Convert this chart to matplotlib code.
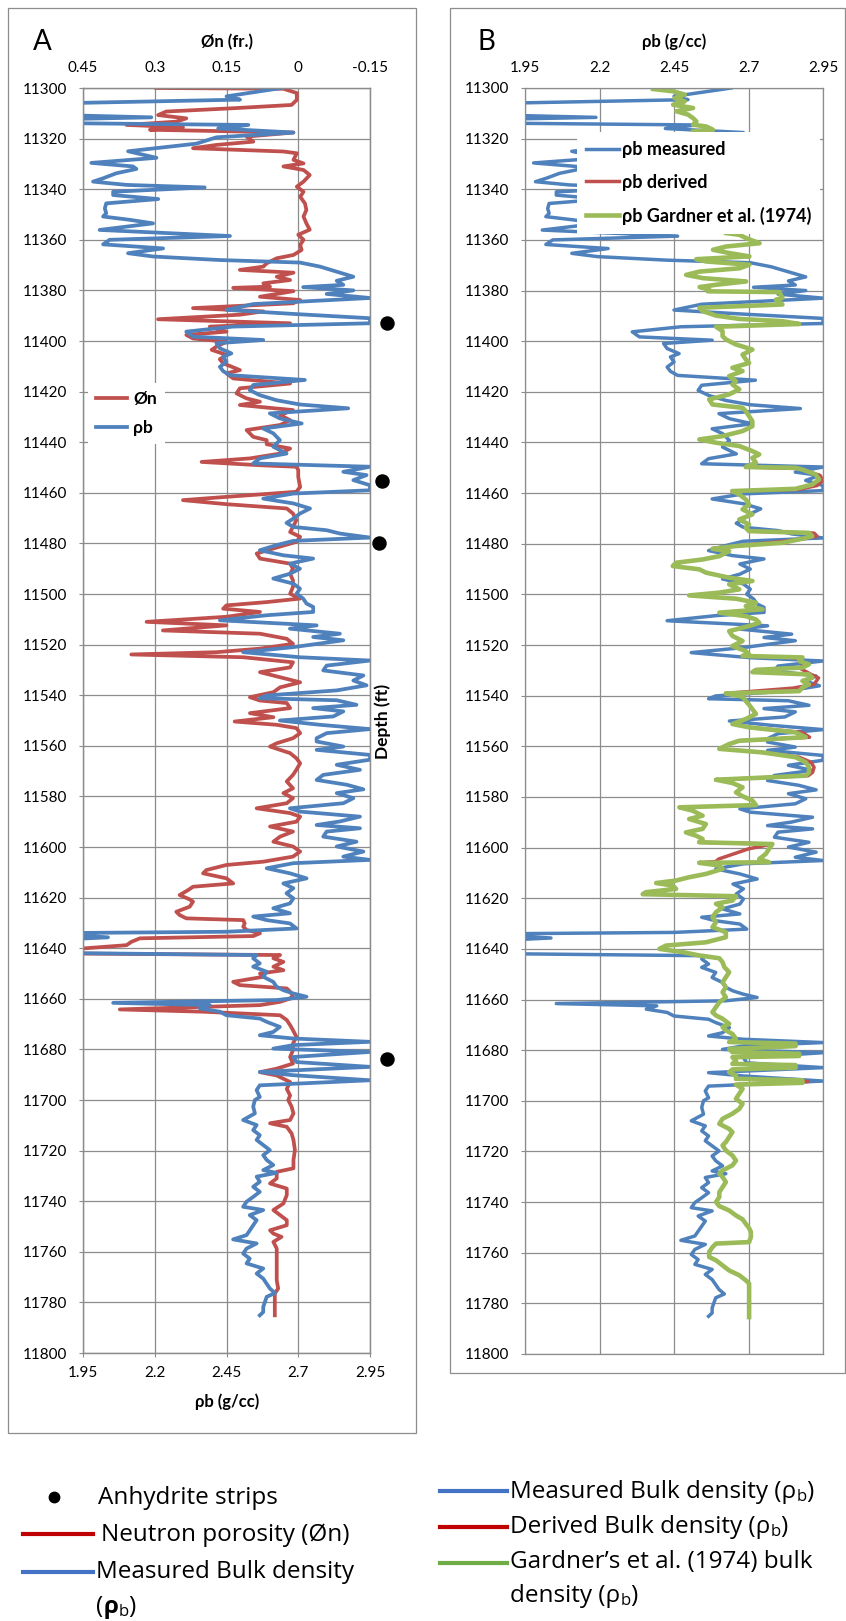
import numpy as np
import matplotlib
matplotlib.use("Agg")
import matplotlib.pyplot as plt
from matplotlib.lines import Line2D
from matplotlib.patches import Rectangle

plt.rcParams["font.family"] = ["Lato", "DejaVu Sans"]

# ---------------------------------------------------------------- data
depth_ticks = [11300, 11320, 11340, 11360, 11380, 11400, 11420, 11440, 11460,
               11480, 11500, 11520, 11540, 11560, 11580, 11600, 11620, 11640,
               11660, 11680, 11700, 11720, 11740, 11760, 11780, 11800]
rho_ticks = [1.95, 2.2, 2.45, 2.7, 2.95]
rho_ticklabels = ["1.95", "2.2", "2.45", "2.7", "2.95"]
phin_ticks = [0.45, 0.3, 0.15, 0.0, -0.15]
phin_ticklabels = ["0.45", "0.3", "0.15", "0", "-0.15"]

# measured bulk density (g/cc) vs depth (ft)
rhob_depth = [
    11300.0, 11303.3, 11304.6, 11306.2, 11310.5, 11311.6, 11312.5, 11313.8, 11314.6, 11316.0,
    11317.6, 11319.5, 11322.0, 11325.0, 11327.6, 11329.6, 11331.0, 11332.0, 11333.7, 11335.7,
    11337.0, 11338.3, 11339.3, 11341.0, 11342.3, 11343.9, 11345.6, 11347.6, 11349.5, 11350.8,
    11352.1, 11353.5, 11356.1, 11358.5, 11360.0, 11361.8, 11363.4, 11365.3, 11366.6, 11368.0,
    11369.0, 11370.6, 11372.6, 11374.6, 11376.2, 11377.8, 11378.7, 11380.0, 11381.4, 11383.0,
    11385.4, 11387.7, 11389.3, 11391.0, 11393.0, 11394.3, 11396.3, 11398.3, 11399.6, 11400.9,
    11402.9, 11404.9, 11406.2, 11408.2, 11410.2, 11411.9, 11413.5, 11415.4, 11417.4, 11419.4,
    11421.4, 11423.4, 11425.1, 11426.6, 11428.6, 11430.6, 11432.6, 11434.6, 11436.5, 11439.2,
    11441.8, 11444.5, 11446.4, 11448.4, 11449.7, 11451.7, 11453.0, 11455.0, 11457.0, 11459.0,
    11460.3, 11462.3, 11464.2, 11466.2, 11468.2, 11470.2, 11471.9, 11473.5, 11474.8, 11476.1,
    11477.7, 11479.0, 11480.7, 11482.7, 11484.7, 11486.0, 11488.0, 11490.0, 11492.0, 11493.9,
    11495.9, 11497.9, 11499.9, 11501.8, 11503.8, 11505.1, 11507.1, 11508.4, 11510.4, 11512.4,
    11513.7, 11515.7, 11517.0, 11518.3, 11521.0, 11523.0, 11525.0, 11526.3, 11528.3, 11530.2,
    11532.2, 11534.2, 11536.1, 11538.1, 11540.1, 11541.2, 11542.0, 11543.8, 11545.1, 11546.4,
    11548.4, 11550.0, 11551.7, 11553.4, 11555.0, 11557.0, 11558.3, 11560.3, 11561.6, 11563.6,
    11565.5, 11567.5, 11569.5, 11571.5, 11573.5, 11575.4, 11577.2, 11578.7, 11580.7, 11582.7,
    11584.7, 11586.0, 11588.0, 11589.9, 11591.3, 11592.6, 11593.9, 11595.9, 11597.9, 11599.8,
    11601.8, 11603.8, 11605.1, 11606.4, 11608.4, 11610.4, 11612.4, 11614.4, 11616.3, 11618.3,
    11620.3, 11622.3, 11624.2, 11626.2, 11627.5, 11628.9, 11630.2, 11632.2, 11633.5, 11634.1,
    11635.7, 11637.0, 11641.8, 11642.7, 11644.0, 11646.0, 11647.3, 11649.3, 11651.3, 11653.3,
    11655.2, 11656.6, 11657.9, 11659.2, 11660.5, 11661.6, 11662.5, 11663.8, 11665.1, 11666.5,
    11667.8, 11669.1, 11671.1, 11673.1, 11674.4, 11675.7, 11677.0, 11678.3, 11679.7, 11681.0,
    11683.0, 11685.0, 11686.9, 11688.9, 11690.2, 11692.2, 11694.2, 11696.1, 11698.8, 11700.0,
    11702.6, 11705.3, 11707.9, 11709.9, 11711.9, 11713.9, 11715.8, 11717.8, 11719.8, 11721.8,
    11723.7, 11725.7, 11727.7, 11728.8, 11730.3, 11732.3, 11734.3, 11736.3, 11738.3, 11740.2,
    11742.2, 11743.5, 11745.5, 11747.5, 11749.5, 11751.5, 11753.4, 11755.1, 11756.7, 11758.7,
    11760.7, 11762.7, 11764.6, 11766.6, 11768.6, 11770.6, 11772.6, 11774.5, 11776.3, 11777.8,
    11779.8, 11781.8, 11783.8, 11785.1,
]
rhob_meas = [
    2.642, 2.450, 2.497, 1.800, 1.800, 2.188, 1.800, 1.800, 2.526, 2.421,
    2.683, 2.415, 2.345, 2.107, 2.206, 1.979, 2.124, 2.136, 2.066, 2.020,
    1.985, 2.101, 2.374, 2.055, 2.055, 2.212, 2.031, 2.026, 2.031, 2.020,
    2.113, 2.194, 2.008, 2.462, 2.043, 2.020, 2.229, 2.107, 2.194, 2.427,
    2.706, 2.776, 2.834, 2.892, 2.834, 2.857, 2.717, 2.892, 2.799, 2.950,
    2.543, 2.450, 2.683, 2.950, 2.950, 2.473, 2.310, 2.334, 2.578, 2.415,
    2.427, 2.467, 2.438, 2.450, 2.427, 2.438, 2.462, 2.723, 2.543, 2.531,
    2.566, 2.624, 2.706, 2.874, 2.601, 2.636, 2.712, 2.578, 2.613, 2.636,
    2.613, 2.659, 2.566, 2.543, 2.950, 2.857, 2.938, 2.892, 2.950, 2.950,
    2.683, 2.578, 2.683, 2.741, 2.706, 2.683, 2.659, 2.683, 2.799, 2.845,
    2.950, 2.683, 2.624, 2.566, 2.648, 2.752, 2.671, 2.706, 2.671, 2.613,
    2.683, 2.706, 2.694, 2.717, 2.729, 2.752, 2.752, 2.590, 2.427, 2.764,
    2.671, 2.845, 2.752, 2.857, 2.683, 2.508, 2.706, 2.950, 2.799, 2.787,
    2.927, 2.892, 2.938, 2.834, 2.590, 2.566, 2.834, 2.903, 2.752, 2.857,
    2.822, 2.636, 2.776, 2.950, 2.799, 2.764, 2.764, 2.857, 2.764, 2.950,
    2.950, 2.834, 2.915, 2.787, 2.764, 2.869, 2.927, 2.834, 2.892, 2.857,
    2.671, 2.706, 2.915, 2.845, 2.764, 2.915, 2.799, 2.787, 2.903, 2.834,
    2.927, 2.857, 2.950, 2.683, 2.590, 2.671, 2.729, 2.648, 2.683, 2.659,
    2.683, 2.671, 2.613, 2.671, 2.543, 2.590, 2.671, 2.694, 2.450, 1.800,
    2.037, 1.800, 1.800, 2.555, 2.543, 2.566, 2.543, 2.590, 2.578, 2.613,
    2.624, 2.648, 2.683, 2.729, 2.624, 2.055, 2.392, 2.357, 2.427, 2.450,
    2.566, 2.590, 2.636, 2.613, 2.566, 2.683, 2.950, 2.683, 2.613, 2.950,
    2.683, 2.694, 2.950, 2.566, 2.683, 2.950, 2.566, 2.555, 2.566, 2.549,
    2.543, 2.549, 2.508, 2.555, 2.543, 2.566, 2.555, 2.578, 2.601, 2.578,
    2.590, 2.613, 2.578, 2.624, 2.555, 2.566, 2.543, 2.566, 2.543, 2.520,
    2.508, 2.578, 2.531, 2.555, 2.543, 2.531, 2.520, 2.473, 2.555, 2.520,
    2.508, 2.531, 2.520, 2.578, 2.555, 2.578, 2.590, 2.601, 2.619, 2.590,
    2.584, 2.578, 2.578, 2.566,
]

# neutron porosity (fraction) vs depth (ft)
phin_depth = [
    11300.0, 11300.3, 11302.0, 11304.7, 11306.7, 11308.0, 11309.3, 11310.7, 11312.0, 11313.3,
    11314.6, 11315.5, 11316.5, 11317.6, 11319.2, 11321.2, 11322.5, 11323.8, 11325.1, 11325.8,
    11328.4, 11329.8, 11331.0, 11332.4, 11334.4, 11337.0, 11339.0, 11341.0, 11343.0, 11345.6,
    11348.2, 11350.8, 11353.5, 11356.0, 11358.0, 11360.0, 11362.0, 11364.0, 11366.0, 11367.3,
    11369.3, 11370.6, 11371.9, 11373.0, 11374.6, 11375.9, 11377.2, 11378.5, 11379.0, 11380.3,
    11382.5, 11383.8, 11385.1, 11387.0, 11388.3, 11389.6, 11391.4, 11393.0, 11394.3, 11396.3,
    11397.6, 11399.0, 11400.3, 11402.2, 11403.5, 11405.5, 11407.2, 11408.8, 11411.5, 11412.8,
    11414.8, 11416.8, 11418.7, 11420.7, 11422.7, 11424.0, 11425.3, 11427.3, 11429.3, 11431.3,
    11433.2, 11435.2, 11437.9, 11439.2, 11440.8, 11442.5, 11444.5, 11446.4, 11447.8, 11449.1,
    11449.7, 11451.0, 11453.7, 11457.7, 11459.6, 11461.6, 11462.9, 11464.5, 11466.2, 11468.2,
    11470.8, 11473.5, 11475.5, 11477.4, 11479.4, 11482.0, 11484.0, 11486.0, 11488.0, 11490.0,
    11492.0, 11494.6, 11497.2, 11499.9, 11501.8, 11503.2, 11504.5, 11505.8, 11507.1, 11509.0,
    11511.0, 11512.4, 11514.4, 11515.7, 11517.7, 11519.7, 11521.6, 11523.0, 11523.9, 11525.0,
    11527.0, 11529.0, 11530.9, 11532.9, 11534.9, 11536.9, 11538.8, 11540.8, 11542.1, 11543.1,
    11545.1, 11547.1, 11548.7, 11550.4, 11551.7, 11553.0, 11555.0, 11557.0, 11559.0, 11560.3,
    11562.9, 11564.9, 11566.9, 11569.5, 11571.5, 11574.1, 11576.8, 11578.7, 11580.7, 11582.7,
    11584.7, 11586.6, 11588.0, 11590.0, 11591.9, 11593.9, 11595.9, 11597.9, 11599.8, 11601.8,
    11603.8, 11605.8, 11607.1, 11609.1, 11610.4, 11612.4, 11614.4, 11615.7, 11617.0, 11619.0,
    11620.7, 11621.6, 11623.6, 11625.6, 11626.9, 11628.2, 11628.9, 11630.2, 11631.5, 11632.8,
    11634.1, 11635.2, 11636.1, 11637.5, 11638.8, 11640.1, 11641.4, 11642.0, 11642.7, 11644.0,
    11645.4, 11647.3, 11648.7, 11650.0, 11651.3, 11653.3, 11654.6, 11655.9, 11657.2, 11658.6,
    11659.9, 11661.2, 11662.5, 11664.2, 11665.1, 11666.5, 11668.4, 11670.4, 11672.4, 11675.0,
    11677.7, 11680.3, 11683.0, 11685.6, 11687.6, 11689.0, 11690.3, 11692.9, 11695.6, 11698.2,
    11700.0, 11702.6, 11705.3, 11707.9, 11709.2, 11710.6, 11713.2, 11715.8, 11719.8, 11723.7,
    11727.0, 11728.4, 11731.0, 11733.0, 11735.0, 11737.6, 11740.9, 11743.5, 11745.5, 11747.5,
    11749.5, 11751.5, 11752.8, 11754.1, 11756.1, 11758.7, 11762.7, 11767.3, 11771.2, 11774.5,
    11776.5, 11779.2, 11785.1,
]
phin = [
    0.297, 0.031, 0.003, 0.003, 0.014, 0.136, 0.276, 0.293, 0.234, 0.255,
    0.359, 0.241, 0.310, 0.010, 0.108, 0.094, 0.171, 0.220, 0.031, 0.003,
    0.010, -0.011, 0.031, -0.011, -0.024, -0.011, 0.003, -0.011, -0.004, -0.014,
    -0.017, -0.011, -0.017, -0.024, 0.000, -0.011, -0.004, -0.007, 0.010, 0.045,
    0.066, 0.073, 0.122, 0.010, 0.045, 0.017, 0.073, 0.059, 0.136, 0.010,
    0.080, -0.004, 0.011, 0.220, 0.073, 0.122, 0.293, 0.017, 0.185, 0.150,
    0.234, 0.220, 0.150, 0.171, 0.181, 0.150, 0.164, 0.157, 0.122, 0.150,
    0.136, 0.017, 0.122, 0.129, 0.108, 0.080, 0.122, 0.011, 0.038, 0.017,
    0.038, 0.108, 0.094, 0.066, 0.066, 0.017, 0.038, 0.101, 0.202, 0.080,
    0.004, 0.000, 0.000, -0.004, 0.004, 0.150, 0.241, 0.150, 0.024, 0.011,
    0.004, 0.011, 0.017, -0.004, 0.004, 0.052, 0.087, 0.080, 0.017, 0.011,
    0.017, 0.011, 0.011, 0.017, -0.004, 0.066, 0.150, 0.157, 0.080, 0.150,
    0.317, 0.150, 0.283, 0.080, 0.024, 0.011, 0.080, 0.171, 0.349, 0.115,
    0.011, 0.017, 0.080, 0.038, -0.004, 0.038, 0.052, 0.101, 0.080, 0.024,
    0.017, 0.101, 0.052, 0.133, 0.045, 0.004, -0.004, 0.011, 0.045, 0.059,
    0.017, 0.004, -0.004, 0.004, 0.011, 0.024, 0.011, 0.031, 0.011, 0.024,
    0.087, 0.017, -0.004, 0.004, 0.059, 0.011, 0.038, 0.052, 0.011, -0.004,
    0.011, 0.073, 0.150, 0.192, 0.199, 0.150, 0.136, 0.220, 0.230, 0.248,
    0.227, 0.220, 0.227, 0.255, 0.248, 0.234, 0.115, 0.112, 0.115, 0.108,
    0.080, 0.094, 0.331, 0.349, 0.359, 0.450, 0.550, 0.550, 0.038, 0.052,
    0.031, 0.052, 0.031, 0.080, 0.073, 0.136, 0.122, 0.024, 0.017, 0.011,
    0.017, 0.038, 0.080, 0.373, 0.199, 0.038, 0.024, 0.017, 0.011, 0.004,
    0.011, 0.011, 0.017, 0.011, 0.045, 0.080, 0.045, 0.017, 0.024, 0.017,
    0.021, 0.014, 0.010, 0.017, 0.059, 0.024, 0.014, 0.010, 0.007, 0.010,
    0.010, 0.045, 0.045, 0.059, 0.024, 0.024, 0.031, 0.052, 0.038, 0.024,
    0.024, 0.059, 0.052, 0.035, 0.052, 0.045, 0.045, 0.045, 0.045, 0.042,
    0.049, 0.049, 0.049,
]

# Gardner et al. (1974) bulk density (g/cc); NaN where no value is shown
gard_depth = [
    11300.4, 11301.3, 11302.6, 11304.0, 11305.3, 11306.6, 11307.9, 11309.2, 11310.5, 11311.9,
    11313.2, 11314.5, 11315.2, 11316.5, 11317.2, 11337.0, 11357.3, 11358.0, 11359.3, 11361.3,
    11362.6, 11363.9, 11365.2, 11366.5, 11367.6, 11368.5, 11369.8, 11371.2, 11372.5, 11373.8,
    11375.1, 11376.4, 11377.7, 11378.6, 11379.7, 11380.3, 11380.6, 11382.9, 11383.6, 11385.5,
    11386.8, 11388.1, 11389.9, 11391.2, 11392.1, 11393.2, 11394.3, 11396.0, 11398.0, 11399.3,
    11401.3, 11403.3, 11405.3, 11407.2, 11408.6, 11410.5, 11411.8, 11413.8, 11415.8, 11417.1,
    11419.0, 11421.0, 11423.0, 11425.0, 11426.3, 11427.6, 11429.6, 11431.6, 11433.6, 11435.5,
    11437.5, 11438.8, 11440.1, 11441.4, 11443.4, 11444.7, 11446.1, 11448.0, 11449.7, 11450.0,
    11450.7, 11452.6, 11454.6, 11456.6, 11458.3, 11459.2, 11460.5, 11462.5, 11464.5, 11466.4,
    11468.4, 11470.4, 11472.4, 11473.7, 11475.0, 11475.7, 11477.0, 11478.0, 11479.6, 11480.9,
    11482.0, 11482.9, 11484.9, 11486.2, 11487.5, 11488.8, 11490.1, 11491.4, 11493.4, 11494.7,
    11496.0, 11498.0, 11499.3, 11500.4, 11501.7, 11503.3, 11504.6, 11505.9, 11507.2, 11508.6,
    11509.9, 11511.2, 11512.5, 11514.5, 11516.4, 11518.4, 11520.4, 11522.4, 11523.7, 11524.3,
    11524.9, 11526.3, 11527.6, 11528.9, 11529.8, 11530.7, 11531.6, 11532.9, 11534.2, 11535.5,
    11536.8, 11538.2, 11539.1, 11540.4, 11542.1, 11543.6, 11545.3, 11547.2, 11549.2, 11551.2,
    11552.5, 11554.5, 11556.4, 11557.8, 11559.1, 11561.0, 11562.4, 11564.3, 11566.3, 11568.3,
    11570.3, 11571.6, 11573.2, 11574.5, 11576.2, 11578.2, 11579.7, 11581.4, 11583.2, 11584.1,
    11585.4, 11587.4, 11588.7, 11590.7, 11592.6, 11594.0, 11595.3, 11596.6, 11597.9, 11598.6,
    11600.5, 11602.5, 11604.5, 11605.8, 11606.0, 11607.1, 11608.4, 11610.4, 11611.7, 11613.0,
    11614.0, 11615.0, 11616.3, 11617.6, 11618.4, 11619.2, 11620.9, 11622.2, 11623.6, 11625.5,
    11627.5, 11629.5, 11631.4, 11633.4, 11635.4, 11637.4, 11638.7, 11640.0, 11641.3, 11642.6,
    11643.7, 11645.3, 11647.2, 11649.2, 11651.2, 11653.2, 11655.1, 11657.1, 11659.1, 11661.1,
    11663.0, 11665.0, 11666.3, 11667.6, 11669.6, 11670.9, 11672.2, 11673.6, 11675.5, 11676.8,
    11677.4, 11678.4, 11679.5, 11680.8, 11681.4, 11682.3, 11682.8, 11684.1, 11685.4, 11685.9,
    11686.9, 11687.6, 11688.7, 11690.0, 11691.3, 11691.9, 11692.9, 11693.6, 11695.3, 11697.2,
    11699.2, 11701.2, 11703.2, 11705.1, 11707.1, 11709.1, 11711.1, 11712.4, 11714.3, 11716.3,
    11717.6, 11719.6, 11721.6, 11723.6, 11725.5, 11727.5, 11728.8, 11730.1, 11732.1, 11734.1,
    11736.1, 11738.0, 11740.0, 11741.6, 11743.3, 11745.3, 11746.8, 11748.6, 11750.3, 11751.8,
    11753.8, 11755.8, 11756.4, 11757.8, 11759.7, 11761.7, 11763.0, 11765.0, 11767.0, 11768.9,
    11770.9, 11772.2, 11774.2, 11776.8, 11780.8, 11785.4,
]
gard_rhob = [
    2.380, 2.447, 2.486, 2.452, 2.486, 2.447, 2.514, 2.458, 2.497, 2.514,
    2.525, 2.514, 2.558, 2.581, 2.514, np.nan, 2.625, 2.670, 2.692, 2.737,
    2.625, 2.581, 2.636, 2.703, 2.525, 2.558, 2.703, 2.670, 2.536, 2.491,
    2.547, 2.692, 2.592, 2.536, 2.569, 2.563, 2.803, 2.814, 2.792, 2.814,
    2.535, 2.546, 2.591, 2.669, 2.814, 2.870, 2.591, 2.613, 2.613, 2.624,
    2.658, 2.713, 2.680, 2.691, 2.702, 2.646, 2.680, 2.635, 2.658, 2.646,
    2.669, 2.635, 2.568, 2.579, 2.680, 2.691, 2.702, 2.713, 2.713, 2.680,
    2.613, 2.535, 2.591, 2.669, 2.713, 2.736, 2.713, 2.725, 2.691, 2.858,
    2.881, 2.925, 2.937, 2.914, 2.858, 2.646, 2.669, 2.691, 2.702, 2.680,
    2.713, 2.669, 2.702, 2.691, 2.702, 2.903, 2.914, 2.881, 2.814, 2.658,
    2.579, 2.635, 2.602, 2.546, 2.457, 2.446, 2.535, 2.557, 2.635, 2.713,
    2.635, 2.669, 2.602, 2.501, 2.658, 2.725, 2.691, 2.747, 2.602, 2.691,
    2.725, 2.736, 2.702, 2.635, 2.646, 2.680, 2.646, 2.691, 2.702, 2.680,
    2.881, 2.870, 2.903, 2.881, 2.725, 2.713, 2.903, 2.914, 2.881, 2.903,
    2.881, 2.870, 2.624, 2.680, 2.691, 2.702, 2.713, 2.725, 2.691, 2.646,
    2.702, 2.858, 2.892, 2.669, 2.635, 2.602, 2.747, 2.858, 2.892, 2.903,
    2.903, 2.892, 2.591, 2.646, 2.680, 2.658, 2.680, 2.713, 2.725, 2.468,
    2.512, 2.546, 2.501, 2.557, 2.546, 2.490, 2.524, 2.546, 2.535, 2.780,
    2.769, 2.758, 2.736, 2.769, 2.535, 2.602, 2.613, 2.557, 2.501, 2.457,
    2.390, 2.446, 2.457, 2.356, 2.345, 2.658, 2.646, 2.591, 2.613, 2.591,
    2.579, 2.591, 2.579, 2.624, 2.624, 2.557, 2.423, 2.401, 2.479, 2.535,
    2.602, 2.613, 2.619, 2.635, 2.624, 2.613, 2.624, 2.613, 2.624, 2.602,
    2.591, 2.579, 2.591, 2.613, 2.635, 2.613, 2.624, 2.646, 2.658, 2.635,
    2.858, 2.858, 2.635, 2.646, 2.870, 2.870, 2.646, 2.658, 2.646, 2.858,
    2.858, 2.646, 2.635, 2.658, 2.658, 2.881, 2.881, 2.658, 2.680, 2.669,
    2.658, 2.680, 2.669, 2.646, 2.613, 2.602, 2.635, 2.646, 2.635, 2.624,
    2.613, 2.624, 2.646, 2.658, 2.646, 2.613, 2.602, 2.613, 2.624, 2.613,
    2.602, 2.602, 2.591, 2.602, 2.635, 2.658, 2.680, 2.691, 2.702, 2.708,
    2.708, 2.702, 2.591, 2.579, 2.568, 2.568, 2.591, 2.613, 2.635, 2.669,
    2.691, 2.702, 2.702, 2.702, 2.702, 2.702,
]

# derived bulk density (g/cc), listed in the intervals where it departs from Gardner
deriv_depth = [
    11449.7, 11450.3, 11451.5, 11453.0, 11455.0, 11457.0, 11458.5, 11459.2, 11467.0,
    11475.0, 11475.8, 11477.0, 11478.5, 11480.9, 11500.0,
    11524.3, 11525.0, 11527.6, 11529.0, 11531.6, 11533.0, 11535.5, 11537.0, 11539.1, 11545.0,
    11552.5, 11554.5, 11556.4, 11557.8, 11560.0,
    11562.4, 11564.3, 11566.3, 11568.3, 11570.3, 11571.6, 11573.2, 11585.0,
    11597.9, 11598.6, 11600.5, 11602.5, 11604.5, 11605.5, 11606.0, 11650.0,
    11691.3, 11692.4, 11693.6,
]
deriv_rhob = [
    2.691, 2.870, 2.900, 2.940, 2.950, 2.930, 2.870, 2.646, np.nan,
    2.702, 2.920, 2.930, 2.860, 2.658, np.nan,
    2.680, 2.860, 2.890, 2.870, 2.910, 2.935, 2.920, 2.850, 2.624, np.nan,
    2.702, 2.880, 2.905, 2.669, np.nan,
    2.747, 2.870, 2.910, 2.920, 2.915, 2.900, 2.591, np.nan,
    2.535, 2.780, 2.700, 2.650, 2.600, 2.590, 2.535, np.nan,
    2.658, 2.900, 2.658,
]

# anhydrite strips: depth (ft) and marker position on the density scale
anhydrite_depth = [11392.8, 11455.2, 11479.7, 11683.9]
anhydrite_rhob = [3.008, 2.991, 2.982, 3.008]

# ---------------------------------------------------------------- styling
W, H = 846, 1621
GRID = "#8c8c8c"
BLUE, RED, GREEN = "#4f81bd", "#c0504d", "#9bbb59"
KEY_BLUE, KEY_RED, KEY_GREEN = "#4472c4", "#c00000", "#70ad47"
KEY_FONT = ["Open Sans", "DejaVu Sans"]

fig = plt.figure(figsize=(W / 100, H / 100), dpi=100)


def box(left, top, right, bottom):
    return [left / W, 1 - bottom / H, (right - left) / W, (bottom - top) / H]


# full-page layer in pixel units for frames, titles and the key below the tracks
page = fig.add_axes([0, 0, 1, 1], zorder=0)
page.set_xlim(0, W)
page.set_ylim(H, 0)
page.set_axis_off()
page.add_patch(Rectangle((8, 8), 408, 1425, fill=False, ec=GRID, lw=0.9))
page.add_patch(Rectangle((450, 8), 395, 1365, fill=False, ec=GRID, lw=0.9))


def depth_axis(ax):
    ax.set_ylim(11800, 11300)
    ax.set_yticks(depth_ticks)
    ax.set_yticklabels([str(d) for d in depth_ticks])
    ax.tick_params(axis="y", direction="out", length=3, width=0.8, color=GRID,
                   pad=8.5, labelsize=11)
    ax.grid(True, color=GRID, lw=0.9)
    for s in ax.spines.values():
        s.set_color(GRID)
        s.set_linewidth(0.9)


# ---------------------------------------------------------------- track A
axA = fig.add_axes(box(83, 88, 370, 1353), zorder=2)
depth_axis(axA)
axA.set_xlim(0.45, -0.15)
axA.set_xticks(phin_ticks)
axA.set_xticklabels(phin_ticklabels)
axA.plot(phin, phin_depth, color=RED, lw=2.7, solid_joinstyle="round")

axA_rho = axA.twiny()
axA.xaxis.tick_top()
axA_rho.xaxis.tick_bottom()
axA_rho.set_xlim(1.95, 2.95)
axA_rho.set_xticks(rho_ticks)
axA_rho.set_xticklabels(rho_ticklabels)
axA.tick_params(axis="x", length=0, pad=9.5, labelsize=11)
axA_rho.tick_params(axis="x", direction="out", length=3, width=0.8, color=GRID,
                    pad=6.5, labelsize=11)
for s in axA_rho.spines.values():
    s.set_color(GRID)
    s.set_linewidth(0.9)
axA_rho.plot(rhob_meas, rhob_depth, color=BLUE, lw=2.7, solid_joinstyle="round")
axA_rho.plot(anhydrite_rhob, anhydrite_depth, "o", color="black", ms=9.4,
             clip_on=False, zorder=5)

axA_rho.legend([Line2D([], [], color=RED, lw=2.7), Line2D([], [], color=BLUE, lw=2.7)],
               ["Øn", "ρb"], loc="upper left",
               bbox_to_anchor=(88 / W, 1 - 383 / H), bbox_transform=fig.transFigure,
               frameon=True, fancybox=False, edgecolor="none", facecolor="white",
               framealpha=1, prop=dict(weight="bold", size=12.5), handlelength=1.8,
               handletextpad=0.35, labelspacing=0.75, borderpad=0.45, borderaxespad=0)

# ---------------------------------------------------------------- track B
axB = fig.add_axes(box(525, 88, 823, 1354), zorder=2)
depth_axis(axB)
axB.set_xlim(1.95, 2.95)
axB.set_xticks(rho_ticks)
axB.set_xticklabels(rho_ticklabels)
axB.xaxis.tick_top()
axB.tick_params(axis="x", length=0, pad=9.5, labelsize=11)
axB.plot(rhob_meas, rhob_depth, color=BLUE, lw=2.5, solid_joinstyle="round")
axB.plot(deriv_rhob, deriv_depth, color=RED, lw=2.5, solid_joinstyle="round")
axB.plot(gard_rhob, gard_depth, color=GREEN, lw=3.3, solid_joinstyle="round")

axB.legend([Line2D([], [], color=BLUE, lw=2.5), Line2D([], [], color=RED, lw=2.5),
            Line2D([], [], color=GREEN, lw=3.3)],
           ["ρb measured", "ρb derived", "ρb Gardner et al. (1974)"], loc="upper left",
           bbox_to_anchor=(577 / W, 1 - 132 / H), bbox_transform=fig.transFigure,
           frameon=True, fancybox=False, edgecolor="none", facecolor="white",
           framealpha=1, prop=dict(weight="bold", size=13), handlelength=1.85,
           handletextpad=0.12, labelspacing=0.87, borderpad=0.5, borderaxespad=0)

# ---------------------------------------------------------------- titles and labels
page.text(42, 42, "A", fontsize=20, ha="center", va="center")
page.text(486, 42, "B", fontsize=20, ha="center", va="center")
page.text(227, 42, "Øn (fr.)", fontsize=12, fontweight="bold", ha="center", va="center")
page.text(674, 42, "ρb (g/cc)", fontsize=12, fontweight="bold", ha="center", va="center")
page.text(227, 1402, "ρb (g/cc)", fontsize=12, fontweight="bold", ha="center", va="center")
page.text(383, 721, "Depth (ft)", fontsize=12.5, fontweight="bold", rotation=90,
          ha="center", va="center")


# ---------------------------------------------------------------- key below the tracks
def rich_text(x, y, parts):
    """Write consecutive text pieces on one baseline; dy shifts a piece down."""
    prev = None
    for s, size, weight, dy in parts:
        if prev is None:
            prev = page.text(x, y + dy, s, fontsize=size, fontweight=weight,
                             family=KEY_FONT, ha="left", va="baseline")
        else:
            prev = page.annotate(s, xy=(1, y + dy), xycoords=(prev, "data"),
                                 fontsize=size, fontweight=weight, family=KEY_FONT,
                                 ha="left", va="baseline")


KEY = 17.5
SUB = 12
page.plot([54], [1497], "o", color="black", ms=7.5)
page.plot([23, 93], [1534, 1534], color=KEY_RED, lw=3)
page.plot([23, 93], [1572, 1572], color=KEY_BLUE, lw=3)
rich_text(98, 1504, [("Anhydrite strips", KEY, "normal", 0)])
rich_text(101, 1541, [("Neutron porosity (Øn)", KEY, "normal", 0)])
rich_text(96, 1578, [("Measured Bulk density", KEY, "normal", 0)])
rich_text(96, 1613, [("(", KEY, "normal", 0), ("ρ", KEY, "bold", 0),
                     ("b", SUB, "normal", 3), (")", KEY, "normal", 0)])

page.plot([440, 507], [1491, 1491], color=KEY_BLUE, lw=3)
page.plot([440, 507], [1527, 1527], color=KEY_RED, lw=3)
page.plot([440, 507], [1563, 1563], color=KEY_GREEN, lw=3)
rich_text(510, 1498, [("Measured Bulk density (ρ", KEY, "normal", 0),
                      ("b", SUB, "normal", 3), (")", KEY, "normal", 0)])
rich_text(510, 1533, [("Derived Bulk density (ρ", KEY, "normal", 0),
                      ("b", SUB, "normal", 3), (")", KEY, "normal", 0)])
rich_text(510, 1568, [("Gardner’s et al. (1974) bulk", KEY, "normal", 0)])
rich_text(510, 1602, [("density (ρ", KEY, "normal", 0),
                      ("b", SUB, "normal", 3), (")", KEY, "normal", 0)])

fig.savefig("out.png", dpi=100)
